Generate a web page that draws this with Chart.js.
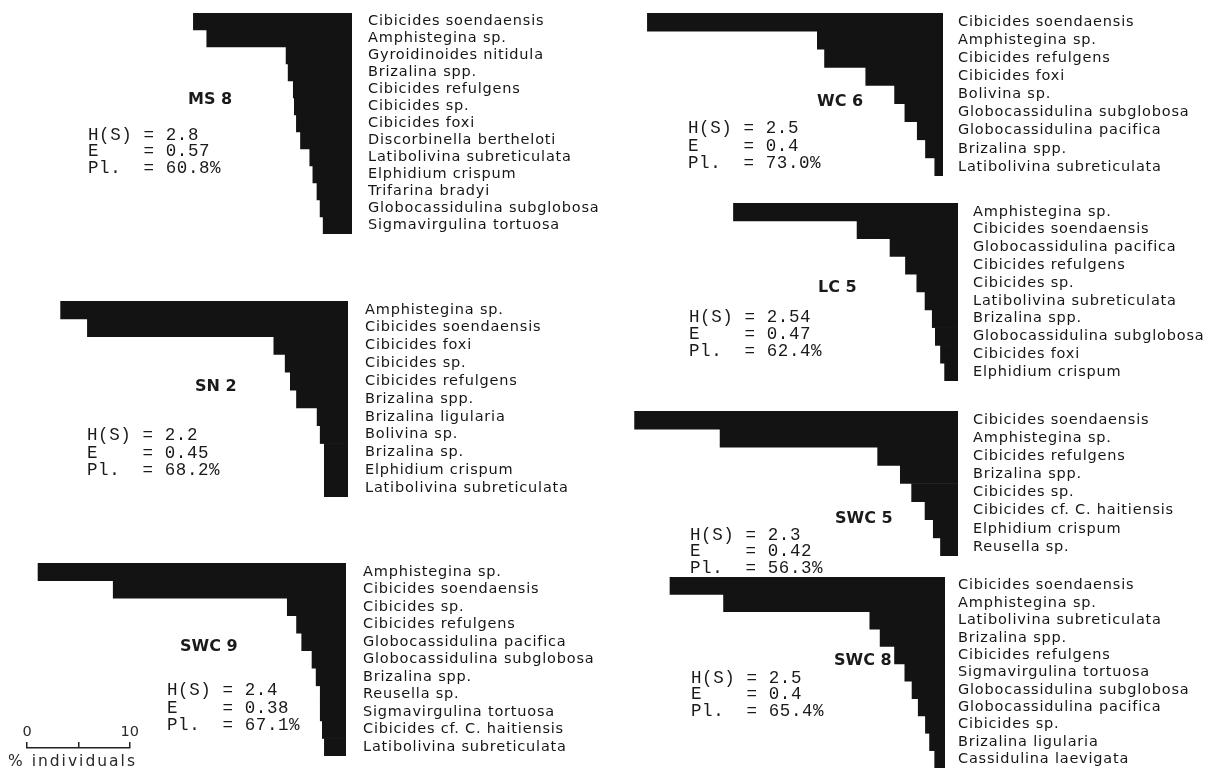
<!DOCTYPE html>
<html>
<head>
<meta charset="utf-8">
<script src="https://cdn.jsdelivr.net/npm/chart.js@4.4.1/dist/chart.umd.min.js"></script>
<style>
  body { margin: 0; background: #fff; }
  #figure { position: relative; width: 1226px; height: 777px; overflow: hidden; }
  .box { position: absolute; }
  .title { position: absolute; font: bold 16px "DejaVu Sans"; color: #1a1a1a; line-height: 20px; white-space: nowrap; }
  .stats { position: absolute; font: 17.5px "Liberation Mono"; letter-spacing: 0.6px; color: #1a1a1a; white-space: pre; }
  .unit { position: absolute; font: 15.5px "DejaVu Sans"; letter-spacing: 2px; color: #2a2a2a; white-space: nowrap; }
</style>
</head>
<body>
<div id="figure"></div>
<script>
// % individuals, ranked, per station
const ms8Species = ["Cibicides soendaensis", "Amphistegina sp.", "Gyroidinoides nitidula", "Brizalina spp.",
  "Cibicides refulgens", "Cibicides sp.", "Cibicides foxi", "Discorbinella bertheloti",
  "Latibolivina subreticulata", "Elphidium crispum", "Trifarina bradyi", "Globocassidulina subglobosa",
  "Sigmavirgulina tortuosa"];
const ms8Values = [15.4, 14.1, 6.4, 6.2, 5.7, 5.6, 5.4, 5.0, 4.1, 3.8, 3.4, 3.1, 2.8];
const ms8Stats = ["2.8", "0.57", "60.8%"];

const sn2Species = ["Amphistegina sp.", "Cibicides soendaensis", "Cibicides foxi", "Cibicides sp.",
  "Cibicides refulgens", "Brizalina spp.", "Brizalina ligularia", "Bolivina sp.", "Brizalina sp.",
  "Elphidium crispum", "Latibolivina subreticulata"];
const sn2Values = [27.9, 25.3, 7.2, 6.1, 5.6, 5.0, 3.0, 2.7, 2.3, 2.3, 2.3];
const sn2Stats = ["2.2", "0.45", "68.2%"];

const swc9Species = ["Amphistegina sp.", "Cibicides soendaensis", "Cibicides sp.", "Cibicides refulgens",
  "Globocassidulina pacifica", "Globocassidulina subglobosa", "Brizalina spp.", "Reusella sp.",
  "Sigmavirgulina tortuosa", "Cibicides cf. C. haitiensis", "Latibolivina subreticulata"];
const swc9Values = [29.9, 22.6, 5.7, 4.8, 4.3, 3.3, 2.9, 2.5, 2.5, 2.3, 2.1];
const swc9Stats = ["2.4", "0.38", "67.1%"];

const wc6Species = ["Cibicides soendaensis", "Amphistegina sp.", "Cibicides refulgens", "Cibicides foxi",
  "Bolivina sp.", "Globocassidulina subglobosa", "Globocassidulina pacifica", "Brizalina spp.",
  "Latibolivina subreticulata"];
const wc6Values = [28.7, 12.2, 11.5, 7.5, 4.7, 3.7, 2.5, 1.7, 0.8];
const wc6Stats = ["2.5", "0.4", "73.0%"];

const lc5Species = ["Amphistegina sp.", "Cibicides soendaensis", "Globocassidulina pacifica",
  "Cibicides refulgens", "Cibicides sp.", "Latibolivina subreticulata", "Brizalina spp.",
  "Globocassidulina subglobosa", "Cibicides foxi", "Elphidium crispum"];
const lc5Values = [21.8, 9.8, 6.6, 5.1, 4.0, 3.2, 2.5, 2.2, 1.7, 1.3];
const lc5Stats = ["2.54", "0.47", "62.4%"];

const swc5Species = ["Cibicides soendaensis", "Amphistegina sp.", "Cibicides refulgens", "Brizalina spp.",
  "Cibicides sp.", "Cibicides cf. C. haitiensis", "Elphidium crispum", "Reusella sp."];
const swc5Values = [31.4, 23.1, 7.8, 5.6, 4.5, 3.2, 2.4, 1.7];
const swc5Stats = ["2.3", "0.42", "56.3%"];

const swc8Species = ["Cibicides soendaensis", "Amphistegina sp.", "Latibolivina subreticulata",
  "Brizalina spp.", "Cibicides refulgens", "Sigmavirgulina tortuosa", "Globocassidulina subglobosa",
  "Globocassidulina pacifica", "Cibicides sp.", "Brizalina ligularia", "Cassidulina laevigata"];
const swc8Values = [26.7, 21.5, 7.3, 6.3, 4.9, 3.9, 3.2, 2.6, 1.9, 1.5, 1.0];
const swc8Stats = ["2.5", "0.4", "65.4%"];

const scaleTicks = [0, 5, 10];
const scaleTickLabels = ["0", "", "10"];

const PX_PER_PCT = 10.3;   // 10 % = 103 px on the scale bar
const LABEL_W = 280;

// where each panel sits on the page
const stations = [
  { name: "MS 8",  species: ms8Species,  values: ms8Values,  stats: ms8Stats,
    right: 352, top: 13,  rowH: 17,   gap: 16, titleX: 188, titleY: 99,  statsX: 88,  statsY: 135, lineH: 16.8 },
  { name: "SN 2",  species: sn2Species,  values: sn2Values,  stats: sn2Stats,
    right: 348, top: 301, rowH: 17.8, gap: 17, titleX: 195, titleY: 386, statsX: 87,  statsY: 436, lineH: 17.2 },
  { name: "SWC 9", species: swc9Species, values: swc9Values, stats: swc9Stats,
    right: 346, top: 563, rowH: 17.5, gap: 17, titleX: 180, titleY: 646, statsX: 167, statsY: 691, lineH: 17.6 },
  { name: "WC 6",  species: wc6Species,  values: wc6Values,  stats: wc6Stats,
    right: 943, top: 13,  rowH: 18.1, gap: 15, titleX: 817, titleY: 101, statsX: 688, statsY: 129, lineH: 17.4 },
  { name: "LC 5",  species: lc5Species,  values: lc5Values,  stats: lc5Stats,
    right: 958, top: 203, rowH: 17.8, gap: 15, titleX: 818, titleY: 287, statsX: 689, statsY: 317, lineH: 17 },
  { name: "SWC 5", species: swc5Species, values: swc5Values, stats: swc5Stats,
    right: 958, top: 411, rowH: 18.1, gap: 15, titleX: 835, titleY: 518, statsX: 690, statsY: 535, lineH: 16.5 },
  { name: "SWC 8", species: swc8Species, values: swc8Values, stats: swc8Stats,
    right: 945, top: 577, rowH: 17.4, gap: 13, titleX: 834, titleY: 660, statsX: 691, statsY: 678, lineH: 16.6 }
];

const fig = document.getElementById("figure");

const spacing = {
  id: "spacing",
  beforeDraw(chart) { chart.ctx.letterSpacing = "0.8px"; }
};

function addDiv(cls, left, top, text) {
  const d = document.createElement("div");
  d.className = cls;
  d.style.left = left + "px";
  d.style.top = top + "px";
  d.textContent = text;
  fig.appendChild(d);
  return d;
}

function makePanel(st) {
  const n = st.species.length;
  const h = Math.round(st.rowH * n);
  const areaW = Math.ceil(Math.max(...st.values) * PX_PER_PCT) + 12;

  const wrap = document.createElement("div");
  wrap.className = "box";
  wrap.style.left = (st.right - areaW) + "px";
  wrap.style.top = st.top + "px";
  wrap.style.width = (areaW + LABEL_W) + "px";
  wrap.style.height = h + "px";
  const canvas = document.createElement("canvas");
  wrap.appendChild(canvas);
  fig.appendChild(wrap);

  new Chart(canvas, {
    type: "bar",
    data: {
      labels: st.species,
      datasets: [{
        data: st.values,
        backgroundColor: "#131313",
        borderWidth: 0,
        barPercentage: 1.0,
        categoryPercentage: 1.0
      }]
    },
    options: {
      indexAxis: "y",
      responsive: true,
      maintainAspectRatio: false,
      animation: false,
      devicePixelRatio: 1,
      layout: { padding: 0 },
      plugins: { legend: { display: false }, tooltip: { enabled: false } },
      scales: {
        x: { display: false, reverse: true, min: 0, max: areaW / PX_PER_PCT },
        y: {
          position: "right",
          grid: { display: false, drawTicks: false },
          border: { display: false },
          ticks: {
            autoSkip: false,
            padding: st.gap,
            color: "#161616",
            font: { family: "DejaVu Sans", size: 14.5 }
          },
          afterFit: (s) => { s.width = LABEL_W; s.paddingTop = 0; s.paddingBottom = 0; }
        }
      }
    },
    plugins: [spacing]
  });

  addDiv("title", st.titleX, st.titleY - 10, st.name);
  const s = addDiv("stats", st.statsX, st.statsY - st.lineH / 2,
    "H(S) = " + st.stats[0] + "\nE    = " + st.stats[1] + "\nPl.  = " + st.stats[2]);
  s.style.lineHeight = st.lineH + "px";
}

stations.forEach(makePanel);

// scale bar: 0 - 10 % individuals
(function () {
  const wrap = document.createElement("div");
  wrap.className = "box";
  wrap.style.left = "17px";
  wrap.style.top = "724px";
  wrap.style.width = "123px";
  wrap.style.height = "34px";
  const canvas = document.createElement("canvas");
  wrap.appendChild(canvas);
  fig.appendChild(wrap);

  new Chart(canvas, {
    type: "line",
    data: { datasets: [] },
    options: {
      responsive: true,
      maintainAspectRatio: false,
      animation: false,
      devicePixelRatio: 1,
      layout: { padding: { left: 10, right: 10, top: 0, bottom: 0 } },
      plugins: { legend: { display: false }, tooltip: { enabled: false } },
      scales: {
        x: {
          type: "linear",
          position: "top",
          min: scaleTicks[0],
          max: scaleTicks[scaleTicks.length - 1],
          afterBuildTicks: (s) => { s.ticks = scaleTicks.map(v => ({ value: v })); },
          ticks: {
            padding: 1,
            color: "#2a2a2a",
            font: { family: "DejaVu Sans", size: 14.5 },
            callback: (v) => scaleTickLabels[scaleTicks.indexOf(v)]
          },
          grid: { drawOnChartArea: false, drawTicks: true, tickLength: 6, color: "#222", lineWidth: 1.5 },
          border: { display: true, color: "#222", width: 1.5 },
          afterFit: (s) => { s.height = 24; }
        },
        y: { display: false }
      }
    }
  });

  addDiv("unit", 8, 752, "% individuals");
})();
</script>
</body>
</html>
